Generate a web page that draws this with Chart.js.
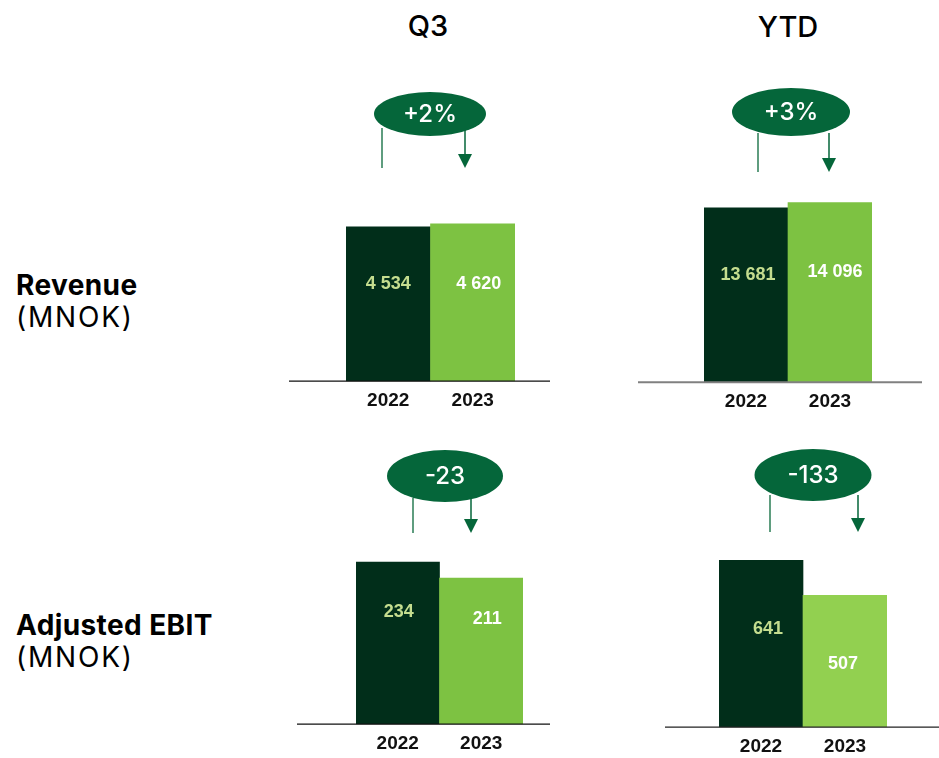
<!DOCTYPE html>
<html>
<head>
<meta charset="utf-8">
<script src="https://cdn.jsdelivr.net/npm/chart.js@4.4.1/dist/chart.umd.min.js"></script>
<style>
  body { margin: 0; background: #fff; width: 939px; height: 758px; overflow: hidden; font-family: Inter, sans-serif; }
  canvas.c { position: absolute; left: 0; top: 0; }
  .title { position: absolute; font-size: 29px; font-weight: 500; color: #000; transform: translate(-50%, -50%); }
  .row { position: absolute; left: 16px; font-size: 28px; line-height: 32px; color: #000; }
  .row b { font-weight: 700; letter-spacing: 0.4px; }
  .row span { letter-spacing: 1.8px; }
</style>
</head>
<body>
<div class="title" style="left:428px; top:25px">Q3</div>
<div class="title" style="left:788px; top:26px">YTD</div>
<div class="row" style="top:269px"><b>Revenue</b><br><span>(MNOK)</span></div>
<div class="row" style="top:609px"><b>Adjusted EBIT</b><br><span>(MNOK)</span></div>

<canvas class="c" id="q3Rev" width="939" height="758"></canvas>
<canvas class="c" id="ytdRev" width="939" height="758"></canvas>
<canvas class="c" id="q3Ebit" width="939" height="758"></canvas>
<canvas class="c" id="ytdEbit" width="939" height="758"></canvas>

<script>
// Data
const years = ["2022", "2023"];
const q3Revenue = [4534, 4620];
const ytdRevenue = [13681, 14096];
const q3Ebit = [234, 211];
const ytdEbit = [641, 507];
const changes = ["+2%", "+3%", "-23", "-133"];

const DARK = "#012e1a";
const LIGHT = "#7dc242";
const BADGE = "#05663a";
const AXIS_H = 39;

function fmt(v) {
  return String(v).replace(/\B(?=(\d{3})+(?!\d))/g, " ");
}

// baseline, value labels and change badge
const decor = {
  id: "decor",
  afterDatasetsDraw(chart, args, o) {
    const ctx = chart.ctx;
    const meta = chart.getDatasetMeta(0);
    const values = chart.data.datasets[0].data;
    const y0 = chart.scales.y.getPixelForValue(0);
    ctx.save();

    ctx.strokeStyle = o.axisColor;
    ctx.lineWidth = o.axisWidth;
    ctx.beginPath();
    ctx.moveTo(o.axisFrom, y0);
    ctx.lineTo(o.axisTo, y0);
    ctx.stroke();

    ctx.font = "bold 18px 'Liberation Sans', Arial, sans-serif";
    ctx.textAlign = "center";
    ctx.textBaseline = "middle";
    meta.data.forEach((bar, i) => {
      ctx.fillStyle = i === 0 ? "#c4dd8f" : "#ffffff";
      ctx.fillText(fmt(values[i]), bar.x + o.labelDx[i], bar.y + o.labelDy[i]);
    });

    const b = o.badge;
    ctx.strokeStyle = "#2a7d55";
    ctx.lineWidth = 1.5;
    ctx.beginPath();
    ctx.moveTo(b.lx, b.y1);
    ctx.lineTo(b.lx, b.y2);
    ctx.stroke();
    ctx.strokeStyle = BADGE;
    ctx.beginPath();
    ctx.moveTo(b.rx, b.y1);
    ctx.lineTo(b.rx, b.y2 - 12);
    ctx.stroke();
    ctx.fillStyle = BADGE;
    ctx.beginPath();
    ctx.moveTo(b.rx - 7, b.y2 - 14);
    ctx.lineTo(b.rx + 7, b.y2 - 14);
    ctx.lineTo(b.rx, b.y2);
    ctx.closePath();
    ctx.fill();

    ctx.beginPath();
    ctx.ellipse(b.cx, b.cy, b.w / 2, b.h / 2, 0, 0, Math.PI * 2);
    ctx.fill();
    ctx.fillStyle = "#fff";
    ctx.font = "500 24px Inter, sans-serif";
    ctx.fillText(b.text, b.cx, b.cy + 1);
    ctx.restore();
  }
};

function makeChart(id, values, max, lay, color) {
  return new Chart(document.getElementById(id), {
    type: "bar",
    data: {
      labels: years,
      datasets: [{
        data: values,
        backgroundColor: [DARK, color || LIGHT],
        categoryPercentage: 1,
        barPercentage: 1
      }]
    },
    options: {
      responsive: false,
      animation: false,
      layout: {
        padding: {
          left: lay.left,
          right: 939 - lay.right,
          top: lay.base - lay.h,
          bottom: 758 - lay.base - AXIS_H
        }
      },
      scales: {
        x: {
          grid: { display: false, drawTicks: false },
          border: { display: false },
          ticks: {
            padding: 8,
            color: "#111",
            font: { family: "'Liberation Sans', Arial, sans-serif", size: 19, weight: "bold" }
          }
        },
        y: { display: false, min: 0, max: max }
      },
      plugins: {
        legend: { display: false },
        tooltip: { enabled: false },
        decor: lay.decor
      }
    },
    plugins: [decor]
  });
}

makeChart("q3Rev", q3Revenue, 5000, {
  left: 346, right: 515, base: 381, h: 170,
  decor: {
    axisFrom: 289, axisTo: 550, axisColor: "#111", axisWidth: 1.3,
    labelDx: [0, 6], labelDy: [57, 60],
    badge: { text: changes[0], cx: 430, cy: 114, w: 112, h: 44, lx: 382, rx: 465, y1: 128, y2: 168 }
  }
});

makeChart("ytdRev", ytdRevenue, 15000, {
  left: 704, right: 872, base: 382, h: 191,
  decor: {
    axisFrom: 638, axisTo: 922, axisColor: "#808080", axisWidth: 2,
    labelDx: [2, 5], labelDy: [67, 70],
    badge: { text: changes[1], cx: 791, cy: 112, w: 118, h: 48, lx: 758, rx: 829, y1: 133, y2: 172 }
  }
});

makeChart("q3Ebit", q3Ebit, 250, {
  left: 356, right: 523, base: 724, h: 173,
  decor: {
    axisFrom: 297, axisTo: 550, axisColor: "#111", axisWidth: 1.3,
    labelDx: [1, 6], labelDy: [50, 41],
    badge: { text: changes[2], cx: 445, cy: 476, w: 116, h: 52, lx: 413, rx: 471, y1: 498, y2: 533 }
  }
});

makeChart("ytdEbit", ytdEbit, 700, {
  left: 719, right: 887, base: 727, h: 182,
  decor: {
    axisFrom: 665, axisTo: 939, axisColor: "#222", axisWidth: 1.3,
    labelDx: [7, -2], labelDy: [69, 69],
    badge: { text: changes[3], cx: 813, cy: 475, w: 117, h: 52, lx: 770, rx: 858, y1: 495, y2: 532 }
  }
}, "#92d050");
</script>
</body>
</html>
